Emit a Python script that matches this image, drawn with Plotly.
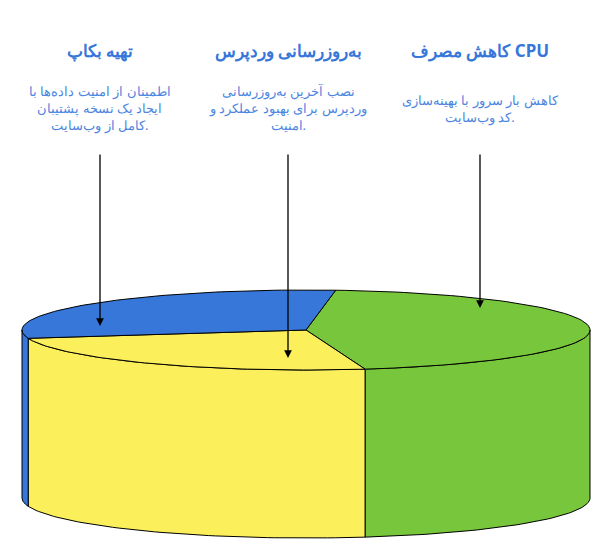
import numpy as np
import plotly.graph_objects as go

# slice data
titles = ["تهیه بکاپ", "به‌روزرسانی وردپرس", "کاهش مصرف CPU"]
descs = [
    "اطمینان از امنیت داده‌ها با<br>ایجاد یک نسخه پشتیبان<br>کامل از وب‌سایت.",
    "نصب آخرین به‌روزرسانی<br>وردپرس برای بهبود عملکرد و<br>امنیت.",
    "کاهش بار سرور با بهینه‌سازی<br>کد وب‌سایت.",
]
values = [30, 25, 45]
colors = ["#3777d9", "#fcef5c", "#77c63c"]
label_x = [92, 280, 472]
tip_y = [318, 350, 300]

# pie geometry (pixel-like coords)
cx, cy, rx, ry, depth = 298, 322, 284, 40, 168
start = -84.0

fig = go.Figure()
total = sum(values)

# green on the right, yellow at the front, blue at the back-left
order = [2, 1, 0]
slice_angles = {}
a = start
for i in order:
    span = 360 * values[i] / total
    slice_angles[i] = (a, a + span)
    a += span

def pt(t, dy=0):
    r = np.radians(t)
    return cx + rx * np.cos(r), cy + ry * np.sin(r) + dy

# side walls
for i in order:
    a0, a1 = slice_angles[i]
    for shift in (-360, 0, 360):
        lo, hi = max(a0 + shift, 0), min(a1 + shift, 180)
        if hi <= lo:
            continue
        t = np.linspace(lo, hi, 60)
        xs_top, ys_top = pt(t)
        xs_bot, ys_bot = pt(t[::-1], depth)
        xs = np.concatenate([xs_top, xs_bot, xs_top[:1]])
        ys = np.concatenate([ys_top, ys_bot, ys_top[:1]])
        fig.add_trace(go.Scatter(x=xs, y=ys, fill="toself", fillcolor=colors[i],
                                 mode="lines", line=dict(color="black", width=1),
                                 hoverinfo="skip", showlegend=False))

# top faces
for i in order:
    a0, a1 = slice_angles[i]
    t = np.linspace(a0, a1, 80)
    ax_, ay_ = pt(t)
    xs = np.concatenate([[cx], ax_, [cx]])
    ys = np.concatenate([[cy], ay_, [cy]])
    fig.add_trace(go.Scatter(x=xs, y=ys, fill="toself", fillcolor=colors[i],
                             mode="lines", line=dict(color="black", width=1),
                             hoverinfo="skip", showlegend=False))

annotations = []
for i in range(3):
    annotations.append(dict(x=label_x[i], y=tip_y[i], ax=label_x[i], ay=145, xref="x", yref="y",
                            axref="x", ayref="y", text="", showarrow=True,
                            arrowhead=2, arrowsize=1.2, arrowwidth=1.3, arrowcolor="black"))
    annotations.append(dict(x=label_x[i], y=42, xref="x", yref="y", text="<b>" + titles[i] + "</b>",
                            showarrow=False, font=dict(size=17, color="#3777d9", family="Noto Sans")))
    annotations.append(dict(x=label_x[i], y=100, xref="x", yref="y", text=descs[i],
                            showarrow=False, align="center",
                            font=dict(size=13, color="#4d86e0", family="Noto Sans")))

fig.update_layout(
    width=602, height=545, margin=dict(l=0, r=0, t=0, b=0),
    paper_bgcolor="white", plot_bgcolor="white",
    xaxis=dict(range=[0, 602], visible=False),
    yaxis=dict(range=[545, 0], visible=False),
    annotations=annotations,
)
fig.write_html("out.html")
